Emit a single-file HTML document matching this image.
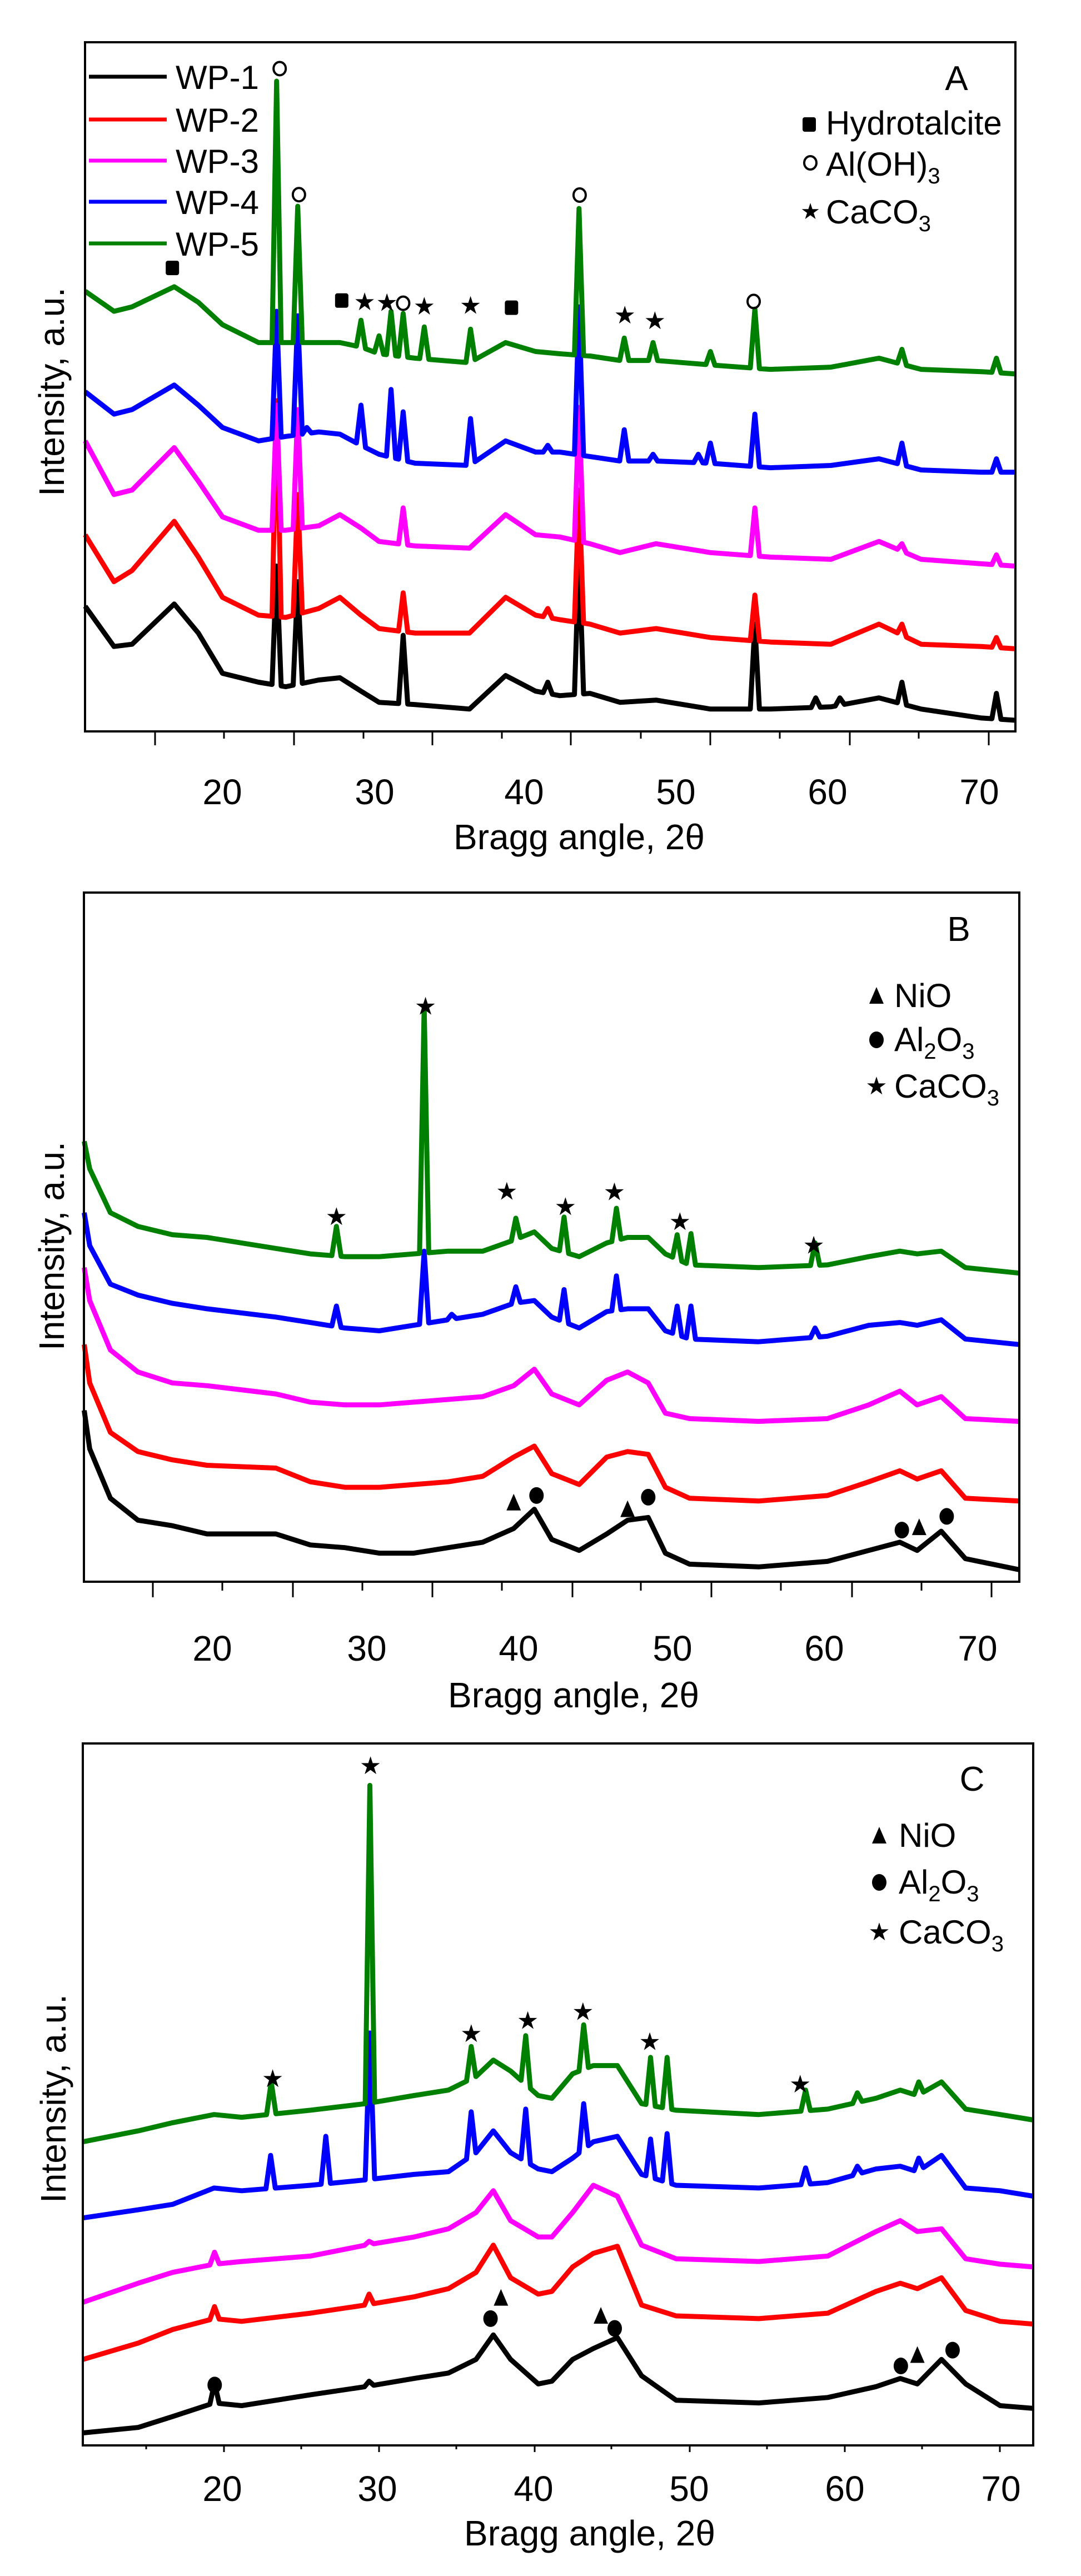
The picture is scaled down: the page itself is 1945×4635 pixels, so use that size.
<!DOCTYPE html>
<html><head><meta charset="utf-8"><style>
html,body{margin:0;padding:0;background:#fff;}
svg{display:block;font-family:"Liberation Sans",Arial,sans-serif;}
</style></head><body>
<svg id="fig" xmlns="http://www.w3.org/2000/svg" width="1945" height="4635" viewBox="0 0 1945 4635"></svg>
<script>
// ---------- Panel A data ----------
const aAngles=[10.96,12.86,14.05,16.83,18.42,20.01,22.39,24.18,26.36,27.75,29.14,30.33,32.71,36.29,38.67,40.65,42.24,44.23,46.21,48.59,52.17,56.13,60.11,63.28,66.06,70.03,72.21];
const aWP1=[28,19,19.5,28.5,22,13,11,10,11.5,12,9,6.5,6,5,12.5,9,8,8.5,6.5,7,5,5,5.5,7.5,5,3,2.5];
const aWP2=[44,33.5,36,47,39,30,26,25.5,27.5,30,26,23,22,22,30,26,25,24,22,23,21,20,19.5,24,19.5,19,18.5];
const aWP3=[65,53,54,63.5,56,48,45,45,46,48.5,45.5,42.5,41.5,41,48.5,44,43.5,42,40,42,40,39,38.5,42.5,38.5,37.5,37];
const aWP4=[76,71,72,77.5,73,68,65,66,67,66.5,64,62,60,59.5,65,62.5,62.5,61.5,60.5,60.5,60,59,59.5,61,58.5,58,58];
const aWP5=[98.5,94,95,99.5,96,91,87,87,87,87,86,84.5,83.5,82.5,87,85,84.5,84,83,83,82,81,81.5,83.5,81,80.5,80];
const aPk1=[[23.58,37],[24.97,33.5],[31.92,21.5],[41.45,11],[43.51,40],[55.10,24],[59.11,7.5],[60.70,7.5],[64.79,11],[71.02,8.5]];
const aPk2=[[23.58,74],[24.97,53],[31.92,31],[41.45,27.5],[43.51,54],[55.10,30.5],[64.79,24],[71.02,21]];
const aPk3=[[23.58,73],[24.97,72],[31.92,50],[43.51,72.5],[55.10,50],[64.79,42],[71.02,39.5]];
const aPk4=[[23.58,94],[24.97,93],[25.57,68],[29.14,73],[31.12,76.5],[31.92,71.5],[36.36,70],[41.45,64],[43.51,95],[46.49,67.5],[48.39,62],[51.37,62],[52.17,64.5],[55.10,71],[64.79,64.5],[71.02,61]];
const aPk5=[[23.58,145.5],[24.97,117.5],[29.14,92],[30.33,88.5],[31.12,94],[31.92,93.5],[33.31,90.5],[36.36,90],[43.51,117],[46.49,88],[48.39,87],[52.17,85],[55.10,94.5],[64.79,85.5],[71.02,83.5]];
const aMarkSquare=[[16.71,103.7],[27.87,96.4],[39.06,94.8]];
const aMarkOpen=[[23.78,148.3],[25.05,120.1],[31.92,95.8],[43.55,120],[55.02,96.2]];
const aMarkStar=[[29.38,96],[30.85,95.8],[33.31,95],[36.36,95.2],[46.53,93],[48.51,91.8]];
// ---------- Panel B data ----------
const bAngles=[11.63,11.99,13.34,15.14,17.39,19.65,24.15,26.40,28.66,30.91,33.16,35.41,37.67,39.69,41.04,42.17,43.97,45.77,47.13,48.48,49.60,51.18,55.69,60.19,62.89,64.92,66.05,67.62,69.20,72.71];
const bWP1=[31.2,24.2,15.2,11.2,10.2,8.7,8.7,6.7,6.2,5.2,5.2,6.2,7.2,9.7,13.2,7.7,5.7,8.7,11.2,11.7,5.2,3.2,2.7,3.7,5.7,7.2,5.7,9.2,4.2,2.2];
const bWP2=[43.2,36.2,27.2,23.7,22.2,21.2,20.7,18.2,17.2,17.2,17.7,18.2,19.2,22.7,24.7,19.7,17.7,22.7,23.7,23.2,17.2,15.2,14.7,15.7,18.2,20.2,18.7,20.2,15.2,14.7];
const bWP3=[57.2,51.2,42.2,38.2,36.2,35.7,34.2,32.7,32.2,32.2,32.7,33.2,33.7,35.7,38.7,34.2,32.2,36.7,38.2,36.2,30.7,29.7,29.2,29.7,32.2,34.7,32.2,33.7,29.7,29.2];
const bWP4=[67.2,61.2,54.2,52.2,50.7,49.7,48.2,47.2,46.2,45.7,46.7,47.7,48.7,50.7,51.2,48.2,46.2,49.2,49.7,49.7,45.7,44.2,43.7,44.7,46.7,47.2,46.7,47.7,44.2,43.2];
const bWP5=[80.2,75.2,67.2,64.7,63.2,62.7,60.7,59.7,59.2,59.2,59.7,60.2,60.2,62.2,63.7,60.7,59.2,61.7,62.7,62.7,59.7,57.7,57.2,57.7,59.2,60.2,59.7,60.2,57.2,56.2];
const bPk4=[[28.11,50.2],[33.84,60.2],[35.64,48.7],[39.83,53.7],[42.98,53.2],[46.40,55.7],[50.37,50.2],[51.27,50.2],[59.38,46.2]];
const bPk5=[[28.11,64.7],[33.84,104.7],[39.83,66.2],[42.98,66.4],[46.40,68],[50.37,63.2],[51.27,63.4],[59.38,61.7]];
const bMarkStar=[[28.11,66.4],[33.93,104.7],[39.24,71],[43.07,68.2],[46.27,70.9],[50.55,65.5],[59.29,61.2]];
const bMarkTri=[[39.69,14.4],[47.13,13.2],[66.18,9.9]];
const bMarkDot=[[41.18,15.7],[48.48,15.4],[65.05,9.4],[67.98,11.9]];
// ---------- Panel C data ----------
const cAngles=[11.06,14.60,16.81,19.47,21.24,25.66,29.20,32.30,34.51,36.28,37.39,38.50,40.27,41.15,42.48,43.81,45.35,46.90,49.12,54.43,58.85,61.95,63.50,64.60,66.15,67.70,69.91,72.04];
const cWP1=[2.3,3.3,5.3,7.8,7.3,9.3,10.8,12.3,13.3,15.8,20.3,15.8,11.3,11.8,15.8,17.8,19.8,12.8,8.3,7.8,8.8,10.8,12.3,11.3,15.8,11.3,7.3,6.8];
const cWP2=[15.8,18.8,21.3,23.3,22.8,24.3,25.8,27.3,28.8,31.8,36.8,30.8,27.8,28.3,32.8,35.3,36.6,25.8,23.8,23.3,24.3,28.3,29.8,28.8,30.8,24.8,22.8,22.3];
const cWP3=[26.3,29.8,31.8,33.3,33.8,34.8,36.8,38.3,39.8,42.8,46.8,41.3,38.3,38.3,42.8,47.8,45.8,36.8,34.3,33.8,34.8,39.3,41.3,39.3,39.8,34.3,33.3,32.8];
const cWP4=[41.8,43.3,44.3,47.3,46.8,47.8,48.8,49.8,50.3,53.8,57.8,53.8,50.8,50.3,52.8,55.8,56.8,49.8,47.8,47.3,48.3,50.8,51.3,50.3,53.3,47.3,46.8,45.8];
const cWP5=[55.8,57.8,59.3,60.8,60.3,61.6,62.8,64.3,65.3,67.8,70.8,68.8,64.3,63.8,68.3,69.8,69.8,62.8,61.6,60.8,61.8,63.8,65.3,64.3,66.8,61.8,60.8,59.8];
const cPk1=[[19.5,11.5],[29.42,11.8]];
const cPk2=[[19.5,25.5],[29.42,27.8]];
const cPk3=[[19.5,35.5],[29.42,37.5]];
const cPk4=[[23.10,53.3],[26.64,56.8],[29.47,75.8],[35.97,61.3],[39.47,61.8],[43.19,62.8],[47.48,56.3],[48.54,57.3],[57.43,51],[60.75,51.3],[64.69,52.8]];
const cPk5=[[23.14,66.8],[29.47,121.3],[35.97,73.3],[39.47,75.3],[43.19,77.3],[47.48,71.3],[48.54,71.3],[57.43,65.3],[60.75,64.8],[64.69,66.8]];
const cMarkStar=[[23.23,67.3],[29.51,124.8],[35.97,75.6],[39.60,78],[43.14,79.6],[47.43,74.1],[57.08,66.3]];
const cMarkTri=[[37.88,27.1],[44.29,23.8],[64.60,16.6]];
const cMarkDot=[[19.51,11.1],[37.21,23.3],[45.18,21.5],[63.54,14.6],[66.86,17.5]];

const tickLabels=["20","30","40","50","60","70"];
const seriesNames=["WP-1","WP-2","WP-3","WP-4","WP-5"];
const colors=["#000000","#ff0000","#ff00ff","#0000ff","#008000"];

const NS="http://www.w3.org/2000/svg";
const svg=document.getElementById('fig');
function mk(tag,attrs,parent){const e=document.createElementNS(NS,tag);for(const k in attrs)e.setAttribute(k,attrs[k]);(parent||svg).appendChild(e);return e;}

function buildPoints(angles,vals,peaks,hw){
  const base=v=>{for(let i=0;i<angles.length-1;i++){if(v<=angles[i+1]){const t=(v-angles[i])/(angles[i+1]-angles[i]);return vals[i]+t*(vals[i+1]-vals[i]);}}return vals[vals.length-1];};
  let pts=angles.map((a,i)=>[a,vals[i]]);
  peaks.forEach(p=>{pts=pts.filter(q=>q[0]<=p[0]-hw||q[0]>=p[0]+hw);});
  peaks.forEach(p=>{pts.push([p[0]-hw,base(p[0]-hw)]);pts.push([p[0],p[1]]);pts.push([p[0]+hw,base(p[0]+hw)]);});
  pts.sort((a,b)=>a[0]-b[0]);
  return pts;
}

function panel(cfg){
  const g=mk('g',{});
  
  
  const xS=v=>cfg.x20+(v-20)*cfg.pxDeg;
  const yS=i=>cfg.bottom-i/cfg.imax*(cfg.bottom-cfg.top);
  cfg.series.forEach((s,k)=>{
    const pts=buildPoints(cfg.angles,s,cfg.peaks[k],cfg.hw);
    const d=pts.map((p,i)=>(i?'L':'M')+xS(p[0]).toFixed(1)+' '+yS(p[1]).toFixed(1)).join(' ');
    const path=mk('path',{d:d,fill:'none',stroke:colors[k],'stroke-width':9,'stroke-linejoin':'round'},g);
    
    
  });
  const fr=mk('rect',{x:cfg.left,y:cfg.top,width:cfg.right-cfg.left,height:cfg.bottom-cfg.top,fill:'none',stroke:'#000','stroke-width':4},g);
  
  
  cfg.major.forEach(x=>{const t=mk('line',{x1:x,x2:x,y1:cfg.bottom,y2:cfg.bottom+cfg.majLen,stroke:'#000','stroke-width':3},g);
    
    });
  cfg.minor.forEach(x=>{const t=mk('line',{x1:x,x2:x,y1:cfg.bottom,y2:cfg.bottom+cfg.minLen,stroke:'#000','stroke-width':3},g);
    
    });
  tickLabels.forEach((lab,i)=>{const t=mk('text',{x:cfg.labX[i],y:cfg.labY,'font-size':64,'text-anchor':'middle'},g);t.textContent=lab;
    
    });
  const xt=mk('text',{x:cfg.titleX,y:cfg.titleY,'font-size':64,'text-anchor':'middle'},g);xt.textContent='Bragg angle, 2θ';
  
  
  const yt=mk('text',{x:0,y:0,'font-size':64,'text-anchor':'middle',transform:`translate(${cfg.ylabX},${cfg.ylabY}) rotate(-90)`},g);yt.textContent='Intensity, a.u.';
  
  
  const pl=mk('text',{x:cfg.letter[0],y:cfg.letter[1],'font-size':62,'text-anchor':'middle'},g);pl.textContent=cfg.letter[2];
  
  
  (cfg.stars||[]).forEach(p=>{const t=mk('text',{x:xS(p[0]),y:yS(p[1])+14,'font-size':44,'text-anchor':'middle'},g);t.textContent='★';
    
    });
  (cfg.squares||[]).forEach(p=>{const r=mk('rect',{x:xS(p[0])-12,y:yS(p[1])-13,width:24,height:26,rx:4,fill:'#000'},g);
    
    });
  (cfg.opens||[]).forEach(p=>{const c=mk('ellipse',{cx:xS(p[0]),cy:yS(p[1]),rx:11,ry:12,fill:'none',stroke:'#000','stroke-width':4},g);
    
    });
  (cfg.tris||[]).forEach(p=>{const x=xS(p[0]),y=yS(p[1]);const t=mk('polygon',{points:`${x-13},${y+14} ${x+13},${y+14} ${x},${y-16}`,fill:'#000'},g);
    
    });
  (cfg.dots||[]).forEach(p=>{const c=mk('ellipse',{cx:xS(p[0]),cy:yS(p[1]),rx:13,ry:15,fill:'#000'},g);
    
    });
  return g;
}

function legendText(g,x,y,main,sub,name){
  const t=mk('text',{x:x,y:y,'font-size':60},g);
  
  
  t.appendChild(document.createTextNode(main));
  if(sub){const s=mk('tspan',{'font-size':40,dy:14},t);s.textContent=sub;}
  return t;
}

const gA=panel({name:'panel-a',angles:aAngles,series:[aWP1,aWP2,aWP3,aWP4,aWP5],peaks:[aPk1,aPk2,aPk3,aPk4,aPk5],hw:0.3,
  x20:400,pxDeg:27.3,top:76,bottom:1316,imax:154.2,left:153,right:1827,
  major:[279,529,778,1027,1278,1529,1779],minor:[403,654,903,1153,1403,1653],majLen:25,minLen:13,
  labX:[400,674,943,1216,1489,1762],labY:1447,titleX:1042,titleY:1528,ylabX:115,ylabY:705,letter:[1721,162,'A'],
  stars:aMarkStar,squares:aMarkSquare,opens:aMarkOpen});
[138,215,289,363,438].forEach((y,k)=>{
  const l=mk('line',{x1:160,x2:300,y1:y,y2:y,stroke:colors[k],'stroke-width':7},gA);
  
  
  const t=mk('text',{x:316,y:y+22,'font-size':60},gA);t.textContent=seriesNames[k];
  
  
});
{const r=mk('rect',{x:1444,y:211,width:24,height:26,rx:4,fill:'#000'},gA);


legendText(gA,1486,242,'Hydrotalcite','','legend-hydrotalcite');
const c=mk('ellipse',{cx:1458,cy:293,rx:11,ry:12,fill:'none',stroke:'#000','stroke-width':4},gA);


legendText(gA,1486,316,'Al(OH)','3','legend-aloh3');
const s=mk('text',{x:1458,y:394,'font-size':40,'text-anchor':'middle'},gA);s.textContent='★';


legendText(gA,1486,402,'CaCO','3','legend-caco3');}

function legendBC(g,x,y1,y2,y3,tx){
  const t=mk('polygon',{points:`${x-13},${y1+14} ${x+13},${y1+14} ${x},${y1-16}`,fill:'#000'},g);
  
  
  legendText(g,tx,y1+20,'NiO','','legend-nio');
  const c=mk('ellipse',{cx:x,cy:y2,rx:13,ry:15,fill:'#000'},g);
  
  
  const a=mk('text',{x:tx,y:y2+20,'font-size':60},g);
  
  
  a.appendChild(document.createTextNode('Al'));
  const s1=mk('tspan',{'font-size':40,dy:14},a);s1.textContent='2';
  const o=mk('tspan',{dy:-14},a);o.textContent='O';
  const s2=mk('tspan',{'font-size':40,dy:14},a);s2.textContent='3';
  const st=mk('text',{x:x,y:y3+14,'font-size':44,'text-anchor':'middle'},g);st.textContent='★';
  
  
  legendText(g,tx,y3+20,'CaCO','3','legend-caco3');
}

const gB=panel({name:'panel-b',angles:bAngles,series:[bWP1,bWP2,bWP3,bWP4,bWP5],peaks:[[],[],[],bPk4,bPk5],hw:0.3,
  x20:382,pxDeg:27.54,top:1606,bottom:2846,imax:125.5,left:151,right:1834,
  major:[275,527,778,1030,1280,1533,1784],minor:[400,652,903,1153,1405,1658],majLen:28,minLen:16,
  labX:[382,660,933,1210,1483,1759],labY:2988,titleX:1032,titleY:3072,ylabX:115,ylabY:2242,letter:[1725,1693,'B'],
  stars:bMarkStar,tris:bMarkTri,dots:bMarkDot});
legendBC(gB,1577,1792,1871,1955,1609);

const gC=panel({name:'panel-c',angles:cAngles,series:[cWP1,cWP2,cWP3,cWP4,cWP5],peaks:[cPk1,cPk2,cPk3,cPk4,cPk5],hw:0.3,
  x20:400,pxDeg:28.04,top:3137,bottom:4400,imax:129,left:149,right:1859,
  major:[403,682,962,1241,1520,1799],minor:[263,542,821,1100,1380,1659],majLen:12,minLen:7,
  labX:[400,679,960,1240,1520,1801],labY:4500,titleX:1061,titleY:4580,ylabX:118,ylabY:3776,letter:[1749,3222,'C'],
  stars:cMarkStar,tris:cMarkTri,dots:cMarkDot});
legendBC(gC,1582,3303,3387,3477,1617);
</script>
</body></html>
